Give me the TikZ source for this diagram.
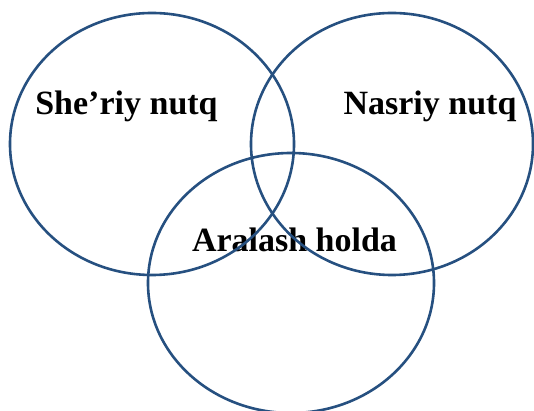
\documentclass[tikz,border=0pt]{standalone}
\usepackage{fontspec}
\setmainfont{Liberation Serif}
\definecolor{ringblue}{RGB}{38,80,128}

\begin{document}
\begin{tikzpicture}[x=1pt, y=1pt,
 every node/.style={font=\fontsize{34}{40}\selectfont\bfseries, anchor=base},
 ring/.style={draw=ringblue, line width=2.6pt}]
\useasboundingbox (0,0) rectangle (534,411);
\node (sheriy) at (126.5,296) {She’riy nutq};
\node (nasriy) at (430,296) {Nasriy nutq};
\node (aralash) at (294.5,159) {Aralash holda};
\draw[ring] (152,267) ellipse [x radius=142, y radius=131];
\draw[ring] (392,267) ellipse [x radius=141, y radius=131];
\draw[ring] (291,128) ellipse [x radius=143, y radius=130];
\end{tikzpicture}
\end{document}
